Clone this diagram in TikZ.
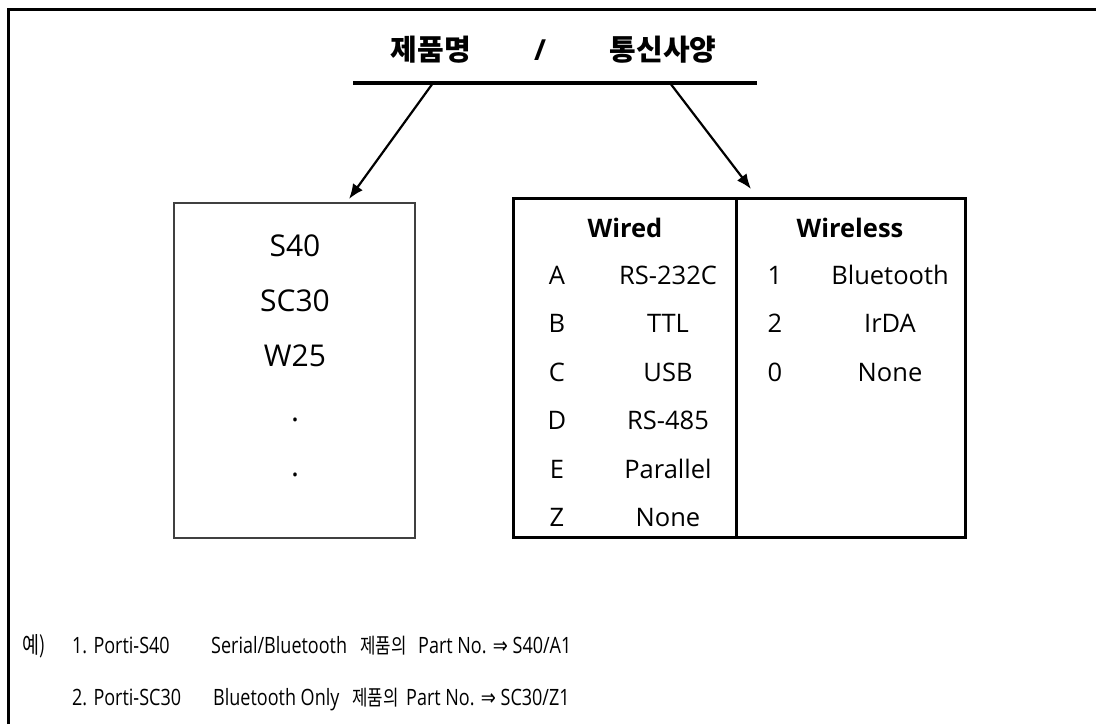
\documentclass[tikz,border=0pt]{standalone}
\usepackage{fontspec}
\setmainfont{Open Sans}
\newfontfamily\kr{Noto Sans CJK KR}
\newfontfamily\narrow{Open Sans}[FakeStretch=0.8]
\newfontfamily\narrowkr{Noto Sans CJK KR}[FakeStretch=0.8]
\newfontfamily\sym{DejaVu Sans}[FakeStretch=0.8]
\usetikzlibrary{arrows.meta}

\begin{document}
\begin{tikzpicture}[x=1pt,y=-1pt,
    box/.style={draw,inner sep=0pt},
    title/.style={font=\bfseries\fontsize{29}{34}\selectfont},
    item/.style={font=\fontsize{30}{36}\selectfont,anchor=base},
    cell/.style={font=\fontsize{25.5}{30}\selectfont,anchor=base},
    head/.style={font=\bfseries\fontsize{25.5}{30}\selectfont,anchor=base},
    note/.style={font=\narrow\fontsize{22.5}{28}\selectfont,anchor=base west,inner sep=0pt},
    notekr/.style={note,font=\narrowkr\fontsize{21}{28}\selectfont},
    pointer/.style={line width=2.2pt,-{Latex[length=15pt,width=12pt]}}]
  \useasboundingbox (0,0) rectangle (1096,724);
  \draw[line width=3pt] (8.5,724) -- (8.5,9.5) -- (1096,9.5);
  % title
  \draw
    (431,50) node[title] (name) {\kr 제품명}
    (540,50) node[title] (slash) {/}
    (663,50) node[title] (spec) {\kr 통신사양};
  \draw[line width=4pt] (353,83) -- (757,83);
  \coordinate (fromname) at (433,83);
  \coordinate (fromspec) at (670,83);
  % boxes
  \node[box,line width=1.5pt,draw=black!75,minimum width=241,minimum height=335] (models) at (294.5,370.5) {};
  \node[box,line width=3pt,minimum width=223,minimum height=339] (wired) at (624.5,367.5) {};
  \node[box,line width=3pt,minimum width=229,minimum height=339] (wireless) at (850.5,367.5) {};
  \coordinate (tomodels) at (349,199);
  \coordinate (towired) at (751,189);
  \begin{scope}[pointer]
    \draw (fromname) to (tomodels);
    \draw (fromspec) to (towired);
  \end{scope}
  % model names
  \foreach \txt [count=\i] in {S40,SC30,W25,.,.}
    \node[item] (m\i) at (295,{256+55*(\i-1)}) {\txt};
  % wired / wireless
  \node[head] (wiredhead) at (625,237) {Wired};
  \node[head] (wirelesshead) at (850,237) {Wireless};
  \foreach \key/\val [count=\i] in {A/RS-232C,B/TTL,C/USB,D/RS-485,E/Parallel,Z/None} {
    \node[cell] (wk\i) at (557,{284+48.5*(\i-1)}) {\key};
    \node[cell] (wv\i) at (668,{284+48.5*(\i-1)}) {\val};
  }
  \foreach \key/\val [count=\i] in {1/Bluetooth,2/IrDA,0/None} {
    \node[cell] (lk\i) at (775,{284+48.5*(\i-1)}) {\key};
    \node[cell] (lv\i) at (890,{284+48.5*(\i-1)}) {\val};
  }
  % examples
  \draw
    (22,653) node[notekr,font=\narrowkr\fontsize{23}{28}\selectfont] (ex) {예)}
    (72,653) node[note] (ex1) {1. Porti-S40}
    (211,653) node[note] (ex1a) {Serial/Bluetooth}
    (360,653) node[notekr] (ex1b) {제품의}
    (418,653) node[note] (ex1c) {Part No. {\sym ⇒} S40/A1}
    (72,705) node[note] (ex2) {2. Porti-SC30}
    (213,705) node[note] (ex2a) {Bluetooth Only}
    (352,705) node[notekr] (ex2b) {제품의}
    (406,705) node[note] (ex2c) {Part No. {\sym ⇒} SC30/Z1};
\end{tikzpicture}
\end{document}
